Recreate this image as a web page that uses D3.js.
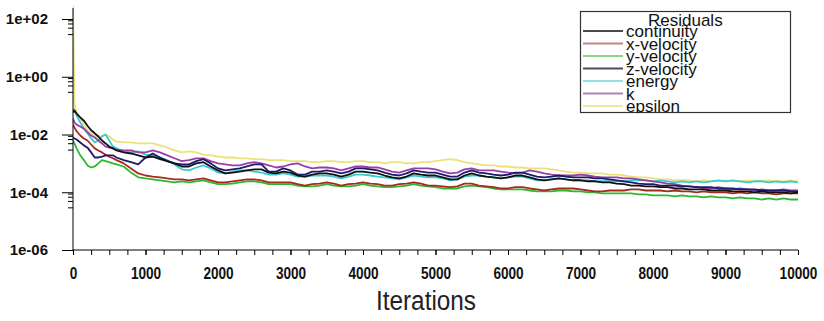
<!DOCTYPE html>
<html><head><meta charset="utf-8">
<script src="https://cdn.jsdelivr.net/npm/d3@7"></script>
<style>body{margin:0;background:#fff} svg{display:block}</style>
</head><body><svg id="c" width="824" height="321"></svg>
<script>
const iterations = [0,20,50,100,150,200,250,300,350,400,450,500,550,600].concat(d3.range(700, 10001, 100));

const continuity = [5.8e-2,6.8e-2,5.3e-2,3.9e-2,3.0e-2,2.0e-2,1.4e-2,1.1e-2,8.5e-3,6.2e-3,4.9e-3,3.8e-3,3.3e-3,2.8e-3,
2.4e-3,2.2e-3,1.9e-3,1.6e-3,1.7e-3,1.4e-3,1.2e-3,1.0e-3,
7.8e-4,7.8e-4,1.0e-3,1.1e-3,7.8e-4,5.7e-4,4.5e-4,4.8e-4,5.2e-4,5.7e-4,
6.2e-4,6.2e-4,4.8e-4,4.5e-4,5.2e-4,4.8e-4,3.8e-4,3.5e-4,4.1e-4,4.5e-4,
4.5e-4,4.1e-4,3.5e-4,4.1e-4,5.2e-4,5.2e-4,4.8e-4,4.5e-4,3.8e-4,3.3e-4,
3.0e-4,3.5e-4,4.5e-4,4.1e-4,3.8e-4,3.8e-4,3.3e-4,2.8e-4,2.8e-4,3.8e-4,
4.5e-4,3.8e-4,3.5e-4,3.3e-4,3.0e-4,3.3e-4,3.8e-4,3.8e-4,3.3e-4,2.8e-4,
2.6e-4,2.8e-4,3.0e-4,2.8e-4,2.6e-4,2.6e-4,2.4e-4,2.4e-4,2.2e-4,2.2e-4,
2.0e-4,1.9e-4,1.7e-4,1.7e-4,1.6e-4,1.6e-4,1.5e-4,1.5e-4,1.35e-4,1.35e-4,
1.25e-4,1.25e-4,1.25e-4,1.15e-4,1.15e-4,1.15e-4,1.07e-4,1.07e-4,1.07e-4,9.9e-5,
1.07e-4,9.9e-5,9.9e-5,9.9e-5,9.1e-5,9.9e-5];

const xVelocity = [2.2e-2,1.75e-2,1.3e-2,9.2e-3,7.3e-3,6.2e-3,4.5e-3,3.3e-3,2.8e-3,2.4e-3,2.0e-3,1.7e-3,1.5e-3,1.3e-3,
1.0e-3,6.7e-4,4.5e-4,3.8e-4,3.5e-4,3.3e-4,3.0e-4,2.8e-4,
2.8e-4,2.6e-4,2.8e-4,3.0e-4,2.6e-4,2.2e-4,2.2e-4,2.4e-4,2.6e-4,2.8e-4,
2.8e-4,2.6e-4,2.2e-4,2.2e-4,2.2e-4,2.2e-4,1.9e-4,1.7e-4,1.9e-4,2.0e-4,
2.2e-4,2.0e-4,1.7e-4,1.9e-4,2.0e-4,2.2e-4,2.0e-4,1.9e-4,1.7e-4,1.7e-4,
1.9e-4,2.0e-4,2.2e-4,2.0e-4,1.7e-4,1.7e-4,1.6e-4,1.5e-4,1.6e-4,2.0e-4,
2.0e-4,1.7e-4,1.6e-4,1.5e-4,1.35e-4,1.35e-4,1.5e-4,1.5e-4,1.35e-4,1.25e-4,
1.15e-4,1.25e-4,1.35e-4,1.35e-4,1.35e-4,1.25e-4,1.15e-4,1.07e-4,1.07e-4,1.15e-4,
1.15e-4,1.15e-4,1.25e-4,1.25e-4,1.15e-4,1.15e-4,1.15e-4,1.07e-4,1.15e-4,1.07e-4,
1.07e-4,9.9e-5,1.07e-4,9.9e-5,9.9e-5,9.9e-5,9.1e-5,9.9e-5,9.1e-5,9.9e-5,
9.1e-5,9.1e-5,8.4e-5,9.1e-5,9.1e-5,9.1e-5];

const yVelocity = [6.2e-3,4.9e-3,3.3e-3,1.9e-3,1.3e-3,8.5e-4,7.2e-4,7.8e-4,1.0e-3,1.3e-3,1.2e-3,1.1e-3,1.0e-3,9.2e-4,
7.8e-4,4.8e-4,3.3e-4,3.0e-4,2.8e-4,2.6e-4,2.4e-4,2.2e-4,
2.4e-4,2.2e-4,2.4e-4,2.6e-4,2.2e-4,1.9e-4,1.9e-4,2.0e-4,2.2e-4,2.4e-4,
2.4e-4,2.2e-4,1.9e-4,1.9e-4,1.9e-4,1.9e-4,1.7e-4,1.6e-4,1.6e-4,1.7e-4,
1.9e-4,1.7e-4,1.6e-4,1.6e-4,1.7e-4,1.9e-4,1.7e-4,1.6e-4,1.5e-4,1.5e-4,
1.6e-4,1.7e-4,1.9e-4,1.7e-4,1.6e-4,1.5e-4,1.35e-4,1.35e-4,1.35e-4,1.6e-4,
1.7e-4,1.6e-4,1.5e-4,1.35e-4,1.25e-4,1.25e-4,1.25e-4,1.25e-4,1.15e-4,1.07e-4,
1.07e-4,1.07e-4,1.15e-4,1.15e-4,1.07e-4,1.07e-4,9.9e-5,9.9e-5,9.1e-5,9.1e-5,
9.1e-5,9.1e-5,9.1e-5,8.4e-5,8.4e-5,7.8e-5,7.8e-5,7.8e-5,7.2e-5,7.8e-5,
7.2e-5,7.2e-5,6.6e-5,7.2e-5,6.6e-5,6.6e-5,6.1e-5,6.6e-5,6.1e-5,6.1e-5,
5.6e-5,6.1e-5,5.6e-5,6.1e-5,5.6e-5,5.6e-5];

const zVelocity = [7.9e-3,7.3e-3,6.7e-3,5.3e-3,4.2e-3,3.5e-3,2.4e-3,1.6e-3,1.6e-3,1.7e-3,1.9e-3,1.9e-3,1.9e-3,1.6e-3,
1.3e-3,1.1e-3,9.2e-4,1.6e-3,2.2e-3,1.6e-3,1.2e-3,1.0e-3,
9.2e-4,9.2e-4,1.2e-3,1.4e-3,1.0e-3,6.7e-4,5.7e-4,6.2e-4,6.7e-4,7.8e-4,
9.2e-4,9.2e-4,5.2e-4,5.2e-4,6.7e-4,5.7e-4,4.1e-4,4.1e-4,5.2e-4,5.2e-4,
5.7e-4,5.2e-4,4.5e-4,5.2e-4,6.7e-4,6.7e-4,6.2e-4,5.7e-4,4.8e-4,4.1e-4,
3.8e-4,4.5e-4,5.7e-4,5.2e-4,4.8e-4,4.8e-4,4.1e-4,3.5e-4,3.5e-4,4.8e-4,
5.7e-4,4.8e-4,4.5e-4,4.1e-4,3.8e-4,4.1e-4,4.8e-4,4.8e-4,4.1e-4,3.5e-4,
3.3e-4,3.5e-4,3.8e-4,3.5e-4,3.3e-4,3.3e-4,3.3e-4,3.0e-4,3.0e-4,2.8e-4,
2.6e-4,2.4e-4,2.2e-4,2.0e-4,1.9e-4,1.9e-4,1.7e-4,1.7e-4,1.7e-4,1.6e-4,
1.6e-4,1.5e-4,1.5e-4,1.5e-4,1.35e-4,1.35e-4,1.35e-4,1.25e-4,1.25e-4,1.25e-4,
1.15e-4,1.15e-4,1.15e-4,1.15e-4,1.07e-4,1.07e-4];

const energy = [8.0e-2,6.8e-2,4.5e-2,2.6e-2,1.6e-2,1.1e-2,7.3e-3,5.3e-3,6.2e-3,8.5e-3,1.0e-2,6.2e-3,3.8e-3,3.3e-3,
2.6e-3,2.4e-3,2.6e-3,2.0e-3,1.9e-3,1.6e-3,1.3e-3,9.2e-4,
6.2e-4,5.7e-4,7.2e-4,8.5e-4,6.7e-4,4.8e-4,4.5e-4,5.2e-4,5.7e-4,5.7e-4,
5.2e-4,4.8e-4,4.1e-4,4.1e-4,4.5e-4,4.1e-4,3.5e-4,3.5e-4,3.8e-4,3.8e-4,
3.8e-4,3.5e-4,3.0e-4,3.5e-4,4.1e-4,4.1e-4,3.8e-4,3.5e-4,3.3e-4,3.0e-4,
2.8e-4,3.3e-4,3.8e-4,3.5e-4,3.3e-4,3.3e-4,3.0e-4,2.6e-4,2.8e-4,3.5e-4,
3.8e-4,3.8e-4,3.5e-4,3.3e-4,3.0e-4,3.3e-4,3.5e-4,3.5e-4,3.0e-4,2.6e-4,
2.6e-4,2.8e-4,3.0e-4,2.8e-4,2.6e-4,2.6e-4,2.6e-4,2.4e-4,2.4e-4,2.4e-4,
2.4e-4,2.4e-4,2.6e-4,2.6e-4,2.6e-4,2.4e-4,2.6e-4,2.4e-4,2.2e-4,2.4e-4,
2.2e-4,2.4e-4,2.2e-4,2.4e-4,2.6e-4,2.4e-4,2.6e-4,2.4e-4,2.2e-4,2.4e-4,
2.4e-4,2.2e-4,2.4e-4,2.2e-4,2.4e-4,2.2e-4];

const kResidual = [3.6e-2,2.6e-2,2.2e-2,1.9e-2,1.6e-2,1.2e-2,9.2e-3,7.9e-3,6.2e-3,4.9e-3,3.8e-3,3.5e-3,3.3e-3,3.0e-3,
2.8e-3,2.8e-3,2.4e-3,2.4e-3,2.8e-3,2.4e-3,1.9e-3,1.5e-3,
1.2e-3,1.3e-3,1.5e-3,1.5e-3,1.2e-3,1.0e-3,9.2e-4,8.5e-4,8.5e-4,1.0e-3,
1.1e-3,1.0e-3,8.5e-4,7.2e-4,7.8e-4,9.2e-4,1.0e-3,7.8e-4,6.7e-4,7.2e-4,
7.2e-4,6.7e-4,5.7e-4,6.7e-4,7.8e-4,7.8e-4,7.2e-4,7.2e-4,6.2e-4,5.2e-4,
4.8e-4,5.7e-4,6.7e-4,6.7e-4,6.7e-4,6.2e-4,5.2e-4,4.5e-4,4.8e-4,6.2e-4,
6.7e-4,5.7e-4,5.7e-4,5.7e-4,5.2e-4,4.8e-4,4.5e-4,4.8e-4,5.7e-4,5.2e-4,
4.5e-4,4.1e-4,3.8e-4,3.8e-4,3.8e-4,4.1e-4,3.8e-4,3.5e-4,3.3e-4,3.3e-4,
3.3e-4,3.0e-4,3.0e-4,2.8e-4,2.6e-4,2.4e-4,2.2e-4,2.0e-4,1.9e-4,1.7e-4,
1.6e-4,1.5e-4,1.35e-4,1.35e-4,1.5e-4,1.35e-4,1.25e-4,1.35e-4,1.25e-4,1.15e-4,
1.25e-4,1.15e-4,1.15e-4,1.25e-4,1.15e-4,1.15e-4];

const epsilon = [3.0e2,1.2e-1,5.8e-2,3.6e-2,2.2e-2,1.4e-2,1.1e-2,9.2e-3,8.5e-3,9.2e-3,1.0e-2,8.5e-3,6.7e-3,5.7e-3,
5.3e-3,5.3e-3,4.9e-3,4.9e-3,4.9e-3,4.2e-3,3.5e-3,2.8e-3,
2.4e-3,2.6e-3,2.4e-3,2.0e-3,1.9e-3,1.7e-3,1.6e-3,1.6e-3,1.5e-3,1.5e-3,
1.4e-3,1.4e-3,1.3e-3,1.3e-3,1.3e-3,1.2e-3,1.2e-3,1.2e-3,1.1e-3,1.1e-3,
1.2e-3,1.2e-3,1.1e-3,1.1e-3,1.2e-3,1.2e-3,1.1e-3,1.1e-3,1.0e-3,1.1e-3,
1.1e-3,1.0e-3,1.0e-3,1.1e-3,1.1e-3,1.2e-3,1.3e-3,1.4e-3,1.3e-3,1.1e-3,
1.0e-3,9.2e-4,8.5e-4,8.5e-4,7.8e-4,7.8e-4,7.2e-4,7.2e-4,6.7e-4,6.7e-4,
6.7e-4,6.2e-4,5.7e-4,5.2e-4,4.8e-4,4.8e-4,4.5e-4,4.5e-4,4.5e-4,4.1e-4,
4.1e-4,3.8e-4,3.5e-4,3.3e-4,3.3e-4,3.0e-4,2.8e-4,2.8e-4,2.6e-4,2.6e-4,
2.6e-4,2.4e-4,2.6e-4,2.4e-4,2.4e-4,2.6e-4,2.4e-4,2.4e-4,2.6e-4,2.4e-4,
2.4e-4,2.6e-4,2.4e-4,2.4e-4,2.6e-4,2.4e-4];

const seriesNames = ["continuity","x-velocity","y-velocity","z-velocity","energy","k","epsilon"];
const seriesValues = [continuity, xVelocity, yVelocity, zVelocity, energy, kResidual, epsilon];
const yTickValues = [1e2, 1e0, 1e-2, 1e-4, 1e-6];
const yTickLabels = ["1e+02","1e+00","1e-02","1e-04","1e-06"];
const xTickValues = [0,1000,2000,3000,4000,5000,6000,7000,8000,9000,10000];
const legendTitle = "Residuals";
const xAxisTitle = "Iterations";

// styles
const lineColors = {"continuity":"#111111","x-velocity":"#a62a22","y-velocity":"#2eb82e","z-velocity":"#1b1b6e","energy":"#38c9d2","k":"#9a3ea6","epsilon":"#ebe27a"};
const legendColors = {"continuity":"#4a4a4a","x-velocity":"#c98484","y-velocity":"#86d886","z-velocity":"#4c4c66","energy":"#93dfe3","k":"#b283b8","epsilon":"#ecea9a"};
const drawOrder = ["epsilon","y-velocity","x-velocity","energy","k","z-velocity","continuity"];

const svg = d3.select("#c");
const x = d3.scaleLinear().domain([0, 10000]).range([73, 798]);
const y = d3.scaleLog().domain([1e-6, 1e2]).range([250, 19]);

svg.append("defs").append("clipPath").attr("id","plotclip")
  .append("rect").attr("x", x(0)).attr("y", 3).attr("width", x(10000) - x(0) + 2).attr("height", y(1e-6) - 3);

// lines
const line = d3.line().x(d => x(d[0])).y(d => y(d[1]));
const gl = svg.append("g").attr("clip-path","url(#plotclip)");
drawOrder.forEach(name => {
  const vals = seriesValues[seriesNames.indexOf(name)];
  gl.append("path")
    .datum(iterations.map((it, i) => [it, vals[i]]))
    .attr("fill","none")
    .attr("stroke", lineColors[name])
    .attr("stroke-width", 1.8)
    .attr("stroke-linejoin","round")
    .attr("d", line);
});

// y axis
const axisFont = "'Liberation Sans', Arial, sans-serif";
svg.append("line").attr("x1", x(0)).attr("x2", x(0)).attr("y1", 8).attr("y2", y(1e-6)).attr("stroke","#000");
const minorY = [];
[2, 0, -2, -4].forEach(k => [0.9, 0.7, 0.5, 0.3].forEach(m => minorY.push(m * Math.pow(10, k))));
const yMinor = d3.axisLeft(y).tickValues(minorY).tickSize(5).tickFormat("");
svg.append("g").attr("transform", `translate(${x(0)},0)`).call(yMinor).call(g => g.select(".domain").remove());
const yMajor = d3.axisLeft(y).tickValues(yTickValues).tickSize(11).tickPadding(14)
  .tickFormat((d, i) => yTickLabels[i]);
svg.append("g").attr("transform", `translate(${x(0)},0)`).call(yMajor)
  .call(g => g.select(".domain").remove())
  .call(g => g.selectAll("text").attr("font-family", axisFont).attr("font-weight","bold").attr("font-size", 15).attr("fill","#111"));

// x axis
svg.append("line").attr("x1", x(0)).attr("x2", x(10000)).attr("y1", y(1e-6)).attr("y2", y(1e-6)).attr("stroke","#000");
const xMinor = d3.axisBottom(x).tickValues(d3.range(0, 10001, 250)).tickSize(5).tickFormat("");
svg.append("g").attr("transform", `translate(0,${y(1e-6)})`).call(xMinor).call(g => g.select(".domain").remove());
const xMajor = d3.axisBottom(x).tickValues(xTickValues).tickSize(5).tickPadding(12).tickFormat(d3.format("d"));
svg.append("g").attr("transform", `translate(0,${y(1e-6)})`).call(xMajor)
  .call(g => g.select(".domain").remove())
  .call(g => g.selectAll("text").attr("font-family", axisFont).attr("font-weight","bold").attr("font-size", 17)
    .attr("fill","#111").attr("transform","scale(0.8,1)"));

svg.append("text").attr("x", 426).attr("y", 310).attr("text-anchor","middle")
  .attr("font-family", axisFont).attr("font-size", 27).attr("fill","#222")
  .attr("textLength", 100).attr("lengthAdjust","spacingAndGlyphs").text(xAxisTitle);

// legend
const lg = svg.append("g");
lg.append("defs").append("clipPath").attr("id","legclip")
  .append("rect").attr("x", 580).attr("y", 11).attr("width", 210).attr("height", 102);
lg.append("rect").attr("x", 580.5).attr("y", 11.5).attr("width", 210).attr("height", 101)
  .attr("fill","#fff").attr("stroke","#333").attr("stroke-width", 1.2);
const lgc = lg.append("g").attr("clip-path","url(#legclip)");
lgc.append("text").attr("x", 648).attr("y", 26).attr("font-family", axisFont).attr("font-size", 17).attr("fill","#111").text(legendTitle);
seriesNames.forEach((name, i) => {
  const by = 37 + i * 12.5;
  lgc.append("line").attr("x1", 583).attr("x2", 623).attr("y1", by - 6).attr("y2", by - 6)
    .attr("stroke", legendColors[name]).attr("stroke-width", 2);
  lgc.append("text").attr("x", 626).attr("y", by).attr("font-family", axisFont).attr("font-size", 17)
    .attr("fill","#111").text(name);
});
</script></body></html>
